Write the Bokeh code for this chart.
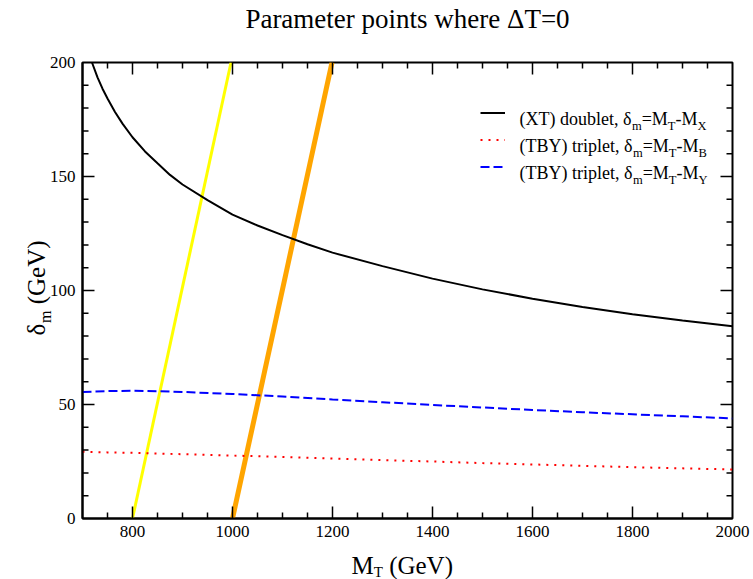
import math
from bokeh.plotting import figure
from bokeh.models import Legend, LegendItem, Range1d, FixedTicker
from bokeh.core.properties import value
from bokeh.embed import file_html
from bokeh.resources import INLINE

FONT = "Liberation Serif"
NAN = float("nan")

# ---------------- data ----------------
mt_xt = [719, 730, 740, 750, 765, 780, 800, 825, 850, 875, 900, 950, 1000, 1050,
         1100, 1150, 1200, 1300, 1400, 1500, 1600, 1700, 1800, 1900, 2000]
dm_xt = [200, 193.5, 188.5, 184.2, 178.3, 173.2, 167.2, 161.0, 155.8, 150.7, 146.5,
         139.6, 133.3, 128.5, 124.3, 120.3, 116.6, 110.7, 105.2, 100.5, 96.4, 92.8,
         89.6, 86.8, 84.3]
mt_tby = [700, 750, 800, 850, 900, 1000, 1100, 1200, 1300, 1400, 1500, 1600, 1700,
          1800, 1900, 2000]
dm_tby_b = [29.3, 29.0, 28.8, 28.5, 28.2, 27.6, 27.0, 26.3, 25.6, 25.0, 24.3, 23.7,
            23.1, 22.5, 22.0, 21.5]
dm_tby_y = [55.5, 55.9, 56.0, 55.8, 55.5, 54.6, 53.5, 52.2, 51.0, 49.8, 48.7, 47.6,
            46.6, 45.7, 44.8, 43.9]
yellow_mt = [800, 997]
yellow_dm = [0, 200]
orange_mt = [1000, 1199]
orange_dm = [0, 200]

x_major = [800, 1000, 1200, 1400, 1600, 1800, 2000]
x_minor = list(range(700, 2001, 50))
y_major = [0, 50, 100, 150, 200]
y_minor = list(range(0, 201, 10))

title_text = "Parameter points where \u0394T=0"

X0, X1, Y0, Y1 = 700, 2000, 0, 200
FR_W, FR_H = 650, 456
DX = (X1 - X0) / FR_W   # data units per pixel
DY = (Y1 - Y0) / FR_H

# ---------------- figure ----------------
p = figure(width=753, height=579, x_range=Range1d(X0, X1), y_range=Range1d(Y0, Y1),
           output_backend="svg", toolbar_location=None,
           min_border_left=82, min_border_right=21, min_border_top=62,
           min_border_bottom=61)
p.outline_line_color = "black"
p.outline_line_width = 2
p.xgrid.visible = False
p.ygrid.visible = False
p.background_fill_color = "white"
p.border_fill_color = "white"

for ax, maj, mnr in ((p.xaxis[0], x_major, x_minor), (p.yaxis[0], y_major, y_minor)):
    ax.ticker = FixedTicker(ticks=maj, minor_ticks=mnr)
    ax.axis_line_width = 2
    ax.axis_line_color = "black"
    ax.major_tick_in = 0
    ax.major_tick_out = 0
    ax.minor_tick_in = 0
    ax.minor_tick_out = 0
    ax.major_tick_line_color = None
    ax.minor_tick_line_color = None
    ax.major_label_text_font = FONT
    ax.major_label_text_font_size = "17px"
    ax.major_label_text_color = "black"
    ax.major_label_standoff = 7

# ---------------- data lines ----------------
p.line(yellow_mt, yellow_dm, line_color="#ffff00", line_width=3)
p.line(orange_mt, orange_dm, line_color="#ffa500", line_width=5)
r_xt = p.line(mt_xt, dm_xt, line_color="black", line_width=2)
r_b = p.line(mt_tby, dm_tby_b, line_color="#ff0000", line_width=2, line_dash="2 6")
r_y = p.line(mt_tby, dm_tby_y, line_color="#0000ff", line_width=2, line_dash="9 4")

# ---------------- inward ticks on all four sides (NaN-separated polylines) ----------------
MAJ, MIN = 12, 6
x_ticks = [(t, MAJ) for t in x_major if X0 < t < X1] + \
          [(t, MIN) for t in x_minor if t not in x_major and X0 < t < X1]
y_ticks = [(t, MAJ) for t in y_major if Y0 < t < Y1] + \
          [(t, MIN) for t in y_minor if t not in y_major and Y0 < t < Y1]

xs, ys = [], []
for t, ln in x_ticks:
    xs += [t, t, NAN, t, t, NAN]
    ys += [Y0, Y0 + ln * DY, NAN, Y1, Y1 - ln * DY, NAN]
for t, ln in y_ticks:
    xs += [X0, X0 + ln * DX, NAN, X1, X1 - ln * DX, NAN]
    ys += [t, t, NAN, t, t, NAN]
p.line(xs, ys, line_color="black", line_width=1.5)

# ---------------- legend (line samples) ----------------
leg = Legend(items=[LegendItem(label=" ", renderers=[r_xt]),
                    LegendItem(label=" ", renderers=[r_b]),
                    LegendItem(label=" ", renderers=[r_y])],
             location=(398, 338.5), orientation="vertical",
             glyph_width=25, glyph_height=27, label_height=27, label_width=1,
             spacing=0, padding=0, margin=0, label_standoff=0,
             border_line_color=None, background_fill_alpha=0,
             label_text_font_size="8px")
p.add_layout(leg, "center")

# ---------------- text ----------------
W = {'(': 333, ')': 333, 'X': 722, 'T': 611, ' ': 250, 'd': 500, 'o': 500, 'u': 500,
     'b': 500, 'l': 278, 'e': 444, 't': 278, ',': 250, '\u03b4': 500, '=': 564,
     'M': 889, '-': 333, 'B': 667, 'Y': 722, 'r': 333, 'i': 278, 'p': 500, 'm': 778,
     'G': 722, 'V': 722}


def tw(s, size):
    return sum(W.get(c, 500) for c in s) * size / 1000.0


def tx(text, sx, sy, size, angle=0.0, align="left"):
    """Text at a pixel offset (sx, sy) from the frame's bottom-left corner."""
    p.text(x=[X0 + sx * DX], y=[Y0 + sy * DY], text=[text],
           text_font=value(FONT), text_font_size=value(f"{size}px"),
           text_color="black", text_align=align, text_baseline="alphabetic",
           angle=angle, level="overlay")


def rich(parts, x, y, size, sub_size, drop):
    for text, sub in parts:
        if sub:
            tx(text, x, y - drop, sub_size)
            x += tw(text, sub_size)
        else:
            tx(text, x, y, size)
            x += tw(text, size)


# title
tx(title_text, FR_W / 2, 500, 27, align="center")

# x axis label
XS, XB = 269, -47
tx("M", XS, XB, 25)
tx("T", XS + tw("M", 25), XB - 6, 15)
tx("(GeV)", XS + tw("M", 25) + tw("T", 15) + tw(" ", 25), XB, 25)

# y axis label (rotated)
YB, YS = -46.5, 183
tx("\u03b4", YB, YS, 25, angle=math.pi / 2)
tx("m", YB + 9, YS + tw("\u03b4", 25), 16, angle=math.pi / 2)
tx("(GeV)", YB, YS + tw("\u03b4", 25) + tw("m", 16) + tw(" ", 25), 25, angle=math.pi / 2)

# legend texts
rows = [
    [("(XT) doublet, \u03b4", 0), ("m", 1), ("=M", 0), ("T", 1), ("-M", 0), ("X", 1)],
    [("(TBY) triplet, \u03b4", 0), ("m", 1), ("=M", 0), ("T", 1), ("-M", 0), ("B", 1)],
    [("(TBY) triplet, \u03b4", 0), ("m", 1), ("=M", 0), ("T", 1), ("-M", 0), ("Y", 1)],
]
for i, parts in enumerate(rows):
    rich(parts, 437, 400 - 27 * i, 18, 12.5, 7)

open("out.html", "w").write(file_html(p, INLINE))
